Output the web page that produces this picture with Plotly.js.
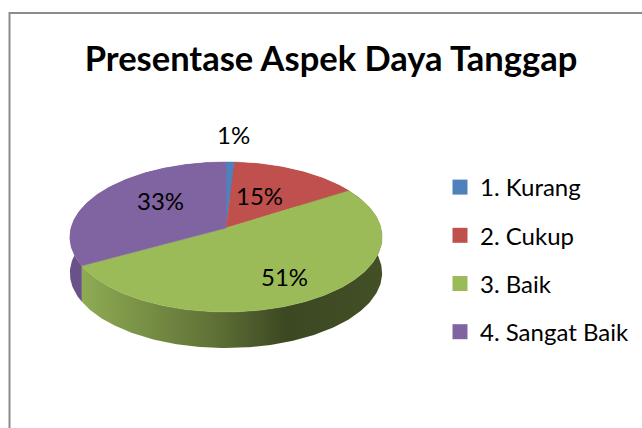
<!DOCTYPE html>
<html>
<head>
<meta charset="utf-8">
<script src="https://cdn.plot.ly/plotly-3.0.1.min.js"></script>
<style>html,body{margin:0;padding:0;background:#fff;overflow:hidden}</style>
</head>
<body>
<div id="chart" style="width:642px;height:428px"></div>
<script>
const categories = ['1. Kurang', '2. Cukup', '3. Baik', '4. Sangat Baik'];
const values = [1, 15, 51, 33];
const shownValues = ['1%', '15%', '51%', '33%'];
const colors = ['#4f81bd', '#c0504d', '#9bbb59', '#8064a2'];
const wallScales = [
  [[0, '#3a5a80'], [1, '#3a5a80']],
  [[0, '#823634'], [1, '#823634']],
  [[0, '#8fab53'], [0.44, '#5f7136'], [0.68, '#3c4822'], [1, '#434f25']],
  [[0, '#6a5187'], [1, '#6a5187']]
];
const labelX = [233, 259, 284, 160];
const labelY = [134, 195, 276, 200];

// Projected disc: a circle seen in perspective.
const cx = 226, cy = 228, A = 155, B = 73.9, k = -0.12, depth = 36;
function project(deg, dz) {
  const t = deg * Math.PI / 180, u = Math.sin(t), v = -Math.cos(t), d = 1 + k * v;
  return [cx + A * u / d, cy + B * v / d + dz];
}
const total = values.reduce((a, b) => a + b, 0);
const traces = [], tops = [];
let start = 0;
values.forEach((val, i) => {
  const end = start + val / total * 360;
  const xs = [], ys = [], wx = [], wy = [];
  const n = Math.max(2, Math.ceil(end - start));
  for (let j = 0; j <= n; j++) {
    const p = project(start + (end - start) * j / n, 0);
    xs.push(p[0]); ys.push(p[1]);
    wx.push(p[0]); wy.push(p[1]);
  }
  for (let j = n; j >= 0; j--) {
    const p = project(start + (end - start) * j / n, depth);
    wx.push(p[0]); wy.push(p[1]);
  }
  traces.push({
    type: 'scatter', mode: 'lines', x: wx, y: wy, fill: 'toself',
    line: {width: 0, color: colors[i]}, showlegend: false, hoverinfo: 'skip',
    fillcolor: wallScales[i][0][1],
    fillgradient: {type: 'horizontal', colorscale: wallScales[i]}
  });
  tops.push({
    type: 'scatter', mode: 'lines', x: [cx].concat(xs, [cx]), y: [cy].concat(ys, [cy]),
    fill: 'toself', fillcolor: colors[i], line: {width: 0.5, color: colors[i]},
    name: categories[i], showlegend: false, hoverinfo: 'name'
  });
  start = end;
});
const legendTraces = categories.map((c, i) => ({
  type: 'scatter', mode: 'markers', x: [null], y: [null], name: c,
  legendgroup: c,
  marker: {symbol: 'square', size: 15, color: colors[i]}
}));

const font = 'Lato, "Open Sans", sans-serif';
const layout = {
  width: 642, height: 428,
  margin: {l: 0, r: 0, t: 0, b: 0},
  paper_bgcolor: '#ffffff', plot_bgcolor: '#ffffff',
  font: {family: font, color: '#000000'},
  title: {
    text: '<b>Presentase Aspek Daya Tanggap</b>',
    font: {family: font, size: 34.5, color: '#000000'},
    x: 331 / 642, xanchor: 'center', y: 1 - 59 / 428, yanchor: 'middle'
  },
  xaxis: {range: [0, 642], visible: false, fixedrange: true},
  yaxis: {range: [428, 0], visible: false, fixedrange: true},
  showlegend: true,
  legend: {
    x: 440 / 642, xanchor: 'left', y: 1 - 165 / 428, yanchor: 'top',
    font: {family: font, size: 24, color: '#000000'},
    traceorder: 'grouped', tracegroupgap: 14, itemclick: false, itemdoubleclick: false,
    bgcolor: 'rgba(0,0,0,0)', borderwidth: 0
  },
  shapes: [{
    type: 'rect', xref: 'x', yref: 'y', x0: 9.5, y0: 13, x1: 700, y1: 500,
    line: {color: '#8c8c8c', width: 2}, fillcolor: 'rgba(0,0,0,0)', layer: 'below'
  }],
  annotations: shownValues.map((t, i) => ({
    x: labelX[i], y: labelY[i], xref: 'x', yref: 'y', text: t, showarrow: false,
    xanchor: 'center', yanchor: 'middle',
    font: {family: font, size: 24, color: '#000000'}
  }))
};
Plotly.newPlot('chart', traces.concat(tops, legendTraces), layout, {displayModeBar: false});
</script>
</body>
</html>
